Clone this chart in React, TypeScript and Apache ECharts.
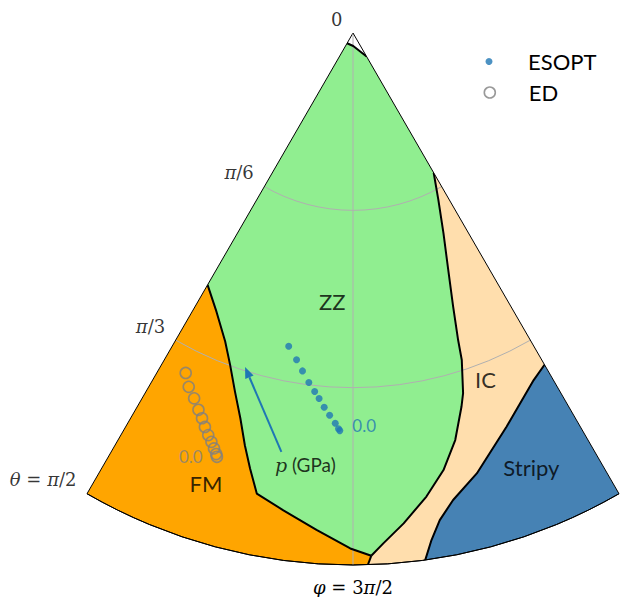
import React, { useEffect, useRef } from 'react';
import * as echarts from 'echarts';

// Polar phase map: radius = θ (degrees, 0 … 90), angle = φ (degrees, 240 … 300)
const thetaTicks = [0, 30, 60, 90];
const thetaTickLabels = ['0', 'π/6', 'π/3', 'θ = π/2'];
const phiTicks = [240, 270, 300];
const phiTickLabels = ['', 'φ = 3π/2', ''];

// Phase boundaries as [θ, φ]
const zzTop = [[2.0, 240], [2.2, 271], [4.6, 300]];
const zzFm = [
  [49.2, 240], [52.5, 243.9], [56.5, 247.5], [59.9, 249.7], [63.9, 251.8],
  [67.9, 253.7], [72.1, 255.3], [75.7, 256.7], [79.6, 258.2], [81.6, 261.7],
  [84.3, 265.8], [87.2, 269.7], [88.5, 272.0],
];
const zzIc = [
  [27.3, 300], [31.7, 297.1], [37.2, 294.3], [43.2, 291.9], [49.3, 290.1],
  [54.9, 288.9], [58.3, 288.4], [63.7, 287.0], [65.8, 286.2], [71.0, 284.1],
  [75.5, 281.7], [79.4, 279.0], [83.4, 275.9], [86.5, 273.4], [88.5, 272.0],
];
const fmIc = [[88.5, 272.0], [90, 271.6]];
const icStripy = [
  [64.8, 300], [66.2, 297.5], [71.5, 291.3], [77.4, 285.7], [80.8, 282.1],
  [83.7, 280.1], [86.8, 278.8], [90, 277.8],
];

// Pressure paths, first point at p = 0.0 GPa
const esoptPoints = [
  [67.3, 268.1], [67.0, 267.9], [66.1, 267.4], [64.8, 266.5], [63.5, 265.6],
  [62.1, 264.7], [61.0, 263.9], [59.6, 262.8], [57.8, 261.5], [56.1, 260.2], [54.1, 258.4],
];
const edPoints = [
  [75.3, 252.2], [74.9, 252.0], [74.1, 251.5], [73.2, 250.9], [72.3, 250.2],
  [71.2, 249.4], [70.0, 248.6], [68.9, 247.7], [67.4, 246.5], [66.0, 245.1], [64.1, 243.8],
];
const startPressureLabel = '0.0';

const pressureArrow = [[71.9, 260.3], [59.4, 252.1]];
const pressureLabelPos = [73.5, 263.7];

const phaseNames = ['ZZ', 'FM', 'IC', 'Stripy'];
const phaseLabelPos = [[45.6, 265.6], [80.1, 251.9], [62.8, 290.9], [79.5, 292.3]];
const phaseColors = ['#90ee90', '#ffa500', '#ffdead', '#4682b4'];

const SANS = 'Lato, "DejaVu Sans", sans-serif';
const SERIF = '"DejaVu Serif", serif';

export default function App() {
  const ref = useRef<HTMLDivElement>(null);

  useEffect(() => {
    const chart = echarts.init(ref.current!, null, { renderer: 'svg' });

    const greek = (s: string) => s.replace(/([θφπ])/g, '{g|$1}');
    const mathRich = { g: { fontStyle: 'italic', fontFamily: SERIF, fontSize: 18, color: '#000' } };

    const phiMin = phiTicks[0];
    const phiMax = phiTicks[phiTicks.length - 1];
    const rOut = 110; // beyond the rim, trimmed by the clip
    const last = (a: number[][]) => a[a.length - 1];

    const zzPoly = [...zzTop, ...zzIc, ...zzFm.slice().reverse()];
    const fmPoly = [...zzFm, ...fmIc, [rOut, last(fmIc)[1]], [rOut, phiMin]];
    const icPoly = [
      ...zzIc, ...fmIc, [rOut, last(fmIc)[1]], [rOut, last(icStripy)[1]],
      ...icStripy.slice().reverse(),
    ];
    const stripyPoly = [...icStripy, [rOut, last(icStripy)[1]], [rOut, phiMax]];
    const polys = [zzPoly, fmPoly, icPoly, stripyPoly];

    const regionSeries = polys.map((pts, i) => ({
      type: 'custom',
      coordinateSystem: 'polar',
      clip: true,
      silent: true,
      z: 1,
      data: [pts[0]],
      renderItem: (_p: any, api: any) => ({
        type: 'polygon',
        shape: { points: pts.map((p) => api.coord(p)) },
        style: { fill: phaseColors[i], stroke: phaseColors[i], lineWidth: 0.5 },
      }),
    }));

    const boundarySeries = [zzTop, zzFm, zzIc, fmIc, icStripy].map((pts) => ({
      type: 'line',
      coordinateSystem: 'polar',
      data: pts,
      symbol: 'none',
      silent: true,
      z: 4,
      lineStyle: { color: '#000', width: 2 },
    }));

    const legendText = { fontFamily: SANS, fontSize: 22, color: '#000' };

    const option: any = {
      animation: false,
      polar: { center: [353, 33], radius: 532 },
      angleAxis: {
        type: 'value',
        min: phiMin,
        max: phiMax,
        interval: 30,
        startAngle: phiMin,
        endAngle: phiMax,
        clockwise: false,
        z: 3,
        axisLine: { show: true, lineStyle: { color: '#000', width: 1 } },
        axisTick: { show: false },
        axisLabel: {
          show: true,
          margin: 13,
          formatter: (v: number) => greek(phiTickLabels[phiTicks.indexOf(v)] ?? ''),
          fontFamily: SERIF,
          fontSize: 18,
          color: '#000',
          rich: mathRich,
        },
        splitLine: { show: true, lineStyle: { color: ['#000', '#b0b0b0', '#000'], width: 1 } },
      },
      radiusAxis: {
        type: 'value',
        min: thetaTicks[0],
        max: thetaTicks[thetaTicks.length - 1],
        interval: 30,
        z: 3,
        axisLine: { show: false },
        axisTick: { show: false },
        axisLabel: { show: false },
        splitLine: {
          show: true,
          lineStyle: { color: ['#b0b0b0', '#b0b0b0', '#b0b0b0', '#000'], width: 1 },
        },
      },
      legend: [
        {
          data: [{ name: 'ESOPT', icon: 'circle', itemStyle: { color: '#1f77b4' } }],
          left: 480.5,
          top: 45.5,
          itemWidth: 68,
          itemHeight: 7,
          selectedMode: false,
          textStyle: legendText,
        },
        {
          data: [{
            name: 'ED', icon: 'circle',
            itemStyle: { color: 'rgba(0,0,0,0)', borderColor: '#808080', borderWidth: 1.6 },
          }],
          left: 478.5,
          top: 76.5,
          itemWidth: 68,
          itemHeight: 11,
          selectedMode: false,
          textStyle: legendText,
        },
      ],
      series: [
        ...regionSeries,
        ...boundarySeries,
        {
          type: 'custom',
          coordinateSystem: 'polar',
          silent: true,
          z: 5,
          data: [pressureArrow[0]],
          renderItem: (_p: any, api: any) => {
            const a = api.coord(pressureArrow[0]);
            const b = api.coord(pressureArrow[1]);
            const dx = b[0] - a[0];
            const dy = b[1] - a[1];
            const len = Math.hypot(dx, dy);
            const ux = dx / len;
            const uy = dy / len;
            const hl = 11;
            const hw = 4.5;
            const base = [b[0] - ux * hl, b[1] - uy * hl];
            return {
              type: 'group',
              children: [
                {
                  type: 'line',
                  shape: { x1: a[0], y1: a[1], x2: base[0], y2: base[1] },
                  style: { stroke: '#1f77b4', lineWidth: 2 },
                },
                {
                  type: 'polygon',
                  shape: {
                    points: [b, [base[0] - uy * hw, base[1] + ux * hw], [base[0] + uy * hw, base[1] - ux * hw]],
                  },
                  style: { fill: '#1f77b4' },
                },
              ],
            };
          },
        },
        {
          name: 'ED',
          type: 'scatter',
          coordinateSystem: 'polar',
          symbol: 'circle',
          symbolSize: 11,
          z: 5,
          itemStyle: { color: 'rgba(0,0,0,0)', borderColor: '#808080', borderWidth: 1.6 },
          data: edPoints.map((p, i) =>
            i === 0
              ? {
                  value: p,
                  label: {
                    show: true, position: 'left', distance: 8, formatter: startPressureLabel,
                    fontFamily: SANS, fontSize: 17, color: '#808080',
                  },
                }
              : p
          ),
        },
        {
          name: 'ESOPT',
          type: 'scatter',
          coordinateSystem: 'polar',
          symbol: 'circle',
          symbolSize: 7,
          z: 5,
          itemStyle: { color: '#1f77b4' },
          data: esoptPoints.map((p, i) =>
            i === 0
              ? {
                  value: p,
                  label: {
                    show: true, position: 'right', distance: 9, offset: [0, -5], formatter: startPressureLabel,
                    fontFamily: SANS, fontSize: 17, color: '#1f77b4',
                  },
                }
              : p
          ),
        },
        // θ tick labels along the φ = 4π/3 edge
        {
          type: 'scatter',
          coordinateSystem: 'polar',
          symbolSize: 1,
          silent: true,
          z: 6,
          itemStyle: { color: 'rgba(0,0,0,0)' },
          data: thetaTicks.map((t, i) => ({ value: [t, phiMin], name: thetaTickLabels[i] })),
          label: {
            show: true,
            position: 'left',
            distance: 10,
            offset: [0, -14],
            formatter: (p: any) => greek(p.name),
            fontFamily: SERIF,
            fontSize: 18,
            color: '#000',
            rich: mathRich,
          },
        },
        {
          type: 'scatter',
          coordinateSystem: 'polar',
          symbolSize: 1,
          silent: true,
          z: 6,
          itemStyle: { color: 'rgba(0,0,0,0)' },
          data: phaseNames.map((n, i) => ({ value: phaseLabelPos[i], name: n })),
          label: {
            show: true, position: 'inside', formatter: '{b}',
            fontFamily: SANS, fontSize: 22, color: '#000',
          },
        },
        {
          type: 'scatter',
          coordinateSystem: 'polar',
          symbolSize: 1,
          silent: true,
          z: 6,
          itemStyle: { color: 'rgba(0,0,0,0)' },
          data: [{ value: pressureLabelPos, name: 'p (GPa)' }],
          label: {
            show: true, position: 'inside',
            formatter: '{i|p} (GPa)',
            fontFamily: SANS, fontSize: 19, color: '#000',
            rich: { i: { fontFamily: SERIF, fontStyle: 'italic', fontSize: 19, color: '#000' } },
          },
        },
      ],
    };

    chart.setOption(option);
    return () => chart.dispose();
  }, []);

  return (
    <div
      ref={ref}
      style={{ position: 'absolute', left: 0, top: 0, width: 621, height: 597, background: '#fff' }}
    />
  );
}
